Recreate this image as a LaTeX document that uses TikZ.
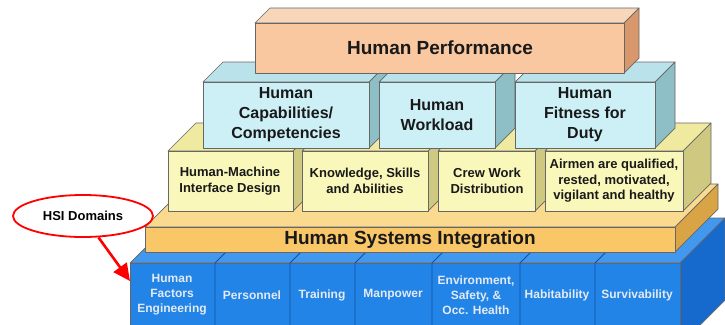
\documentclass[tikz,border=0pt]{standalone}
\usepackage{fontspec}
\setmainfont{Liberation Sans}
\usepackage{tikz}
\usetikzlibrary{arrows.meta, shapes.geometric}

% colours of the layers
\definecolor{perfront}{RGB}{250,200,160}
\definecolor{pertop}{RGB}{247,214,186}
\definecolor{perside}{RGB}{216,152,108}
\definecolor{capfront}{RGB}{204,240,246}
\definecolor{captop}{RGB}{186,226,234}
\definecolor{capside}{RGB}{142,190,198}
\definecolor{yelfront}{RGB}{250,247,186}
\definecolor{yeltop}{RGB}{240,234,160}
\definecolor{yelside}{RGB}{206,200,128}
\definecolor{hsifront}{RGB}{249,198,104}
\definecolor{hsitop}{RGB}{249,218,142}
\definecolor{hsiside}{RGB}{216,164,70}
\definecolor{domfront}{RGB}{34,132,230}
\definecolor{domtop}{RGB}{66,152,238}
\definecolor{domside}{RGB}{22,106,206}
\definecolor{domedge}{RGB}{18,80,160}
\definecolor{domtxt}{RGB}{228,234,244}

\tikzstyle{boxline} = [draw=black!60, line width=0.7pt, line join=round]
\tikzstyle{domline} = [draw=domedge, line width=0.8pt]
\tikzstyle{redarrow} = [draw=red, line width=2.6pt, -{Triangle[length=17pt,width=16pt]}]
\tikzset{
  bigtext/.style={font=\fontsize{19}{22}\selectfont\bfseries, text=black!90},
  captext/.style={font=\fontsize{16}{20}\selectfont\bfseries, align=center, text=black!90},
  yeltext/.style={font=\fontsize{13}{15.5}\selectfont\bfseries, align=center, text=black!90},
  domtext/.style={font=\fontsize{12}{15}\selectfont\bfseries, align=center, text=domtxt},
}

% a box seen from the front: left, top, right, bottom, depth, colour prefix
\newcommand{\cuboid}[6]{%
  \filldraw[boxline, fill=#6top] (#1,#2) -- (#1+#5,#2-#5) -- (#3+#5,#2-#5) -- (#3,#2) -- cycle;
  \filldraw[boxline, fill=#6side] (#3,#2) -- (#3+#5,#2-#5) -- (#3+#5,#4-#5) -- (#3,#4) -- cycle;
  \filldraw[boxline, fill=#6front] (#1,#2) rectangle (#3,#4);
}

\begin{document}
\begin{tikzpicture}[x=1pt, y=-1pt]
        \clip (0,0) rectangle (725,324);
        \fill[white] (0,0) rectangle (725,324);

        % Draw the HSI domains (blue base)
        \cuboid{130}{263}{680}{345}{45}{dom}
        \foreach \x in {215,290,355,432,520,595}
            \draw[domline] (\x,263) -- (\x,345) (\x,263) -- ++(45,-45);
        \node[domtext] (hfe) at (172,295) {Human\\Factors\\Engineering};
        \node[domtext] (per) at (252,295) {Personnel};
        \node[domtext] (trn) at (322,295) {Training};
        \node[domtext] (man) at (393,295) {Manpower};
        \node[domtext] (env) at (476,295) {Environment,\\Safety, \&\\Occ. Health};
        \node[domtext] (hab) at (557,295) {Habitability};
        \node[domtext] (sur) at (637,295) {Survivability};

        % Draw the integration platform
        \cuboid{145}{227}{675}{252}{43}{hsi}
        \node[bigtext] (hsi) at (410,240) {Human Systems Integration};

        % Draw the yellow boxes
        \cuboid{168}{151}{293}{211}{28}{yel}
        \cuboid{302}{151}{428}{211}{28}{yel}
        \cuboid{438}{151}{535}{211}{28}{yel}
        \cuboid{545}{151}{683}{211}{28}{yel}
        \node[yeltext] (hmi) at (230,181) {Human-Machine\\Interface Design};
        \node[yeltext] (ksa) at (365,181) {Knowledge, Skills\\and Abilities};
        \node[yeltext] (cwd) at (487,181) {Crew Work\\Distribution};
        \node[yeltext] (air) at (614,181) {Airmen are qualified,\\rested, motivated,\\vigilant and healthy};

        % Draw the cyan boxes
        \cuboid{203}{82}{369}{148}{20}{cap}
        \cuboid{379}{82}{495}{148}{20}{cap}
        \cuboid{515}{82}{655}{148}{20}{cap}
        \node[captext] (cap) at (286,115) {Human\\Capabilities/\\Competencies};
        \node[captext] (wld) at (437,115) {Human\\Workload};
        \node[captext] (fit) at (585,115) {Human\\Fitness for\\Duty};

        % Draw the top box
        \cuboid{255}{23}{624}{73}{15}{per}
        \node[bigtext] (perf) at (440,48) {Human Performance};

        % Label and arrow to the domains
        \node[ellipse, draw=red, line width=1.8pt, fill=white, minimum width=140pt,
              minimum height=42pt, inner sep=0pt, font=\fontsize{13}{15}\selectfont\bfseries]
              (dom) at (83,216) {HSI Domains};
        \coordinate (tip) at (130,281);
        \draw[redarrow] (dom) -- (tip);
    \end{tikzpicture}
\end{document}
